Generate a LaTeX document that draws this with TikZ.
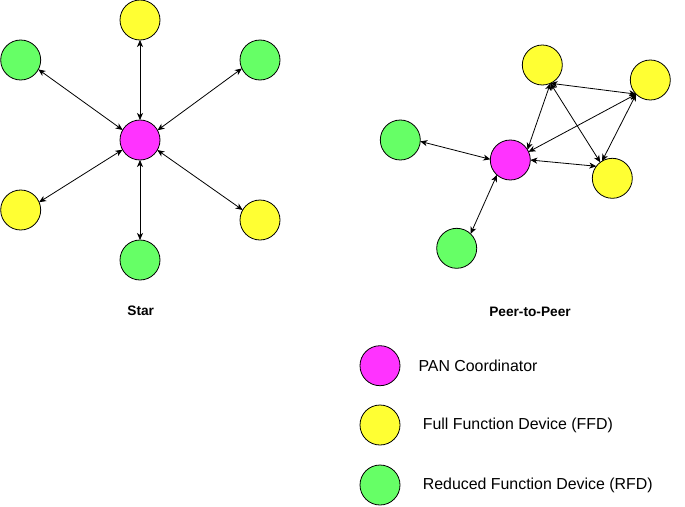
\documentclass[tikz,border=0pt]{standalone}
\usepackage{fontspec}
\setmainfont{Liberation Sans}
\usetikzlibrary{arrows.meta}
\definecolor{pan}{RGB}{255,51,255}
\definecolor{ffd}{RGB}{255,255,51}
\definecolor{rfd}{RGB}{102,255,102}
\tikzset{
  dev/.style={circle,draw=black,line width=0.8pt,minimum size=40pt,inner sep=0pt,outer sep=0pt},
  pannode/.style={dev,fill=pan},
  ffdnode/.style={dev,fill=ffd},
  rfdnode/.style={dev,fill=rfd},
  link/.style={line width=0.8pt,{Stealth[length=7pt,width=6pt,inset=2pt]}-{Stealth[length=7pt,width=6pt,inset=2pt]}},
  title/.style={font=\fontsize{13.7}{16}\selectfont\bfseries,inner sep=0pt},
  legtext/.style={font=\fontsize{15.9}{18}\selectfont,inner sep=0pt,anchor=west}
}
\begin{document}
\begin{tikzpicture}[x=1pt,y=-1pt]
\useasboundingbox (0,0) rectangle (685,506);
% Star
\node[pannode] (sc) at (140,140) {};
\node[ffdnode] (st) at (140,20) {};
\node[rfdnode] (slt) at (20.7,60) {};
\node[rfdnode] (srt) at (260,60) {};
\node[ffdnode] (slb) at (20.7,210) {};
\node[ffdnode] (srb) at (260,220) {};
\node[rfdnode] (sb) at (140,260) {};
\draw[link] (st.south) -- (sc.north);
\draw[link] (sc.south) -- (sb.north);
\draw[link] (slt.-28) -- (sc.150);
\draw[link] (srt.-155) -- (sc.29);
\draw[link] (slb.23) -- (sc.-151);
\draw[link] (srb.150) -- (sc.-30);
\node[title] (startitle) at (140.7,311) {Star};
% Peer-to-Peer
\node[pannode] (pc) at (510.3,160) {};
\node[ffdnode] (pt) at (542.3,65) {};
\node[ffdnode] (pr) at (650.3,80) {};
\node[ffdnode] (pb) at (612.3,178.3) {};
\node[rfdnode] (pl) at (400.3,140) {};
\node[rfdnode] (pg) at (456.7,248.3) {};
\draw[link] (pt.-66) -- (pc.31);
\draw[link] (pr.-135) -- (pc.24);
\draw[link] (pb.143) -- (pc.0);
\draw[link] (pt.-66) -- (pr.-135);
\draw[link] (pt.-66) -- (pb.127);
\draw[link] (pr.-135) -- (pb.121);
\draw[link] (pl.-4) -- (pc.178);
\draw[link] (pg.46) -- (pc.-132);
\node[title] (p2ptitle) at (530,311.7) {Peer-to-Peer};
% Legend
\node[pannode] (lp) at (380,365.7) {};
\node[ffdnode] (lf) at (380,425) {};
\node[rfdnode] (lr) at (380,485) {};
\node[legtext] (lpt) at (418.3,365.7) {PAN Coordinator};
\node[legtext] (lft) at (422.7,425) {Full Function Device (FFD)};
\node[legtext] (lrt) at (422.7,485) {Reduced Function Device (RFD)};
\end{tikzpicture}
\end{document}
